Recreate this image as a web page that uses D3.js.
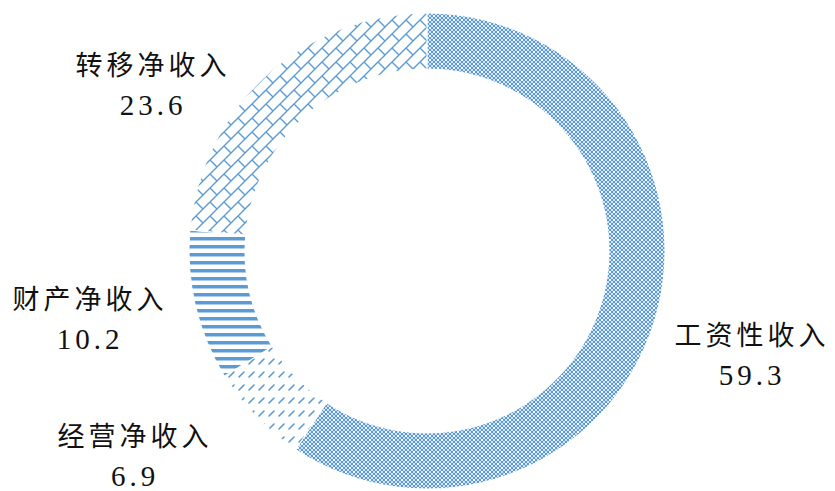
<!DOCTYPE html>
<html>
<head>
<meta charset="utf-8">
<script src="https://cdn.jsdelivr.net/npm/d3@7"></script>
<style>
  html, body { margin: 0; padding: 0; background: #fff; }
  svg { display: block; }
  .name { font-family: "Noto Sans CJK SC", sans-serif; font-size: 27px; letter-spacing: 4px; fill: #111; }
  .value { font-family: "Liberation Serif", serif; font-size: 29px; letter-spacing: 4px; fill: #111; }
</style>
</head>
<body>
<div id="chart"></div>
<script>
// slices, clockwise from 12 o'clock
const categories = ["工资性收入", "经营净收入", "财产净收入", "转移净收入"];
const values = [59.3, 6.9, 10.2, 23.6];
const patterns = ["grid", "dash", "hline", "brick"];

// label anchors (name line centre), placed by hand like the original
const labelPos = [[752, 333], [135, 434], [90, 297], [153, 63]];

const width = 835, height = 491;
const cx = 427, cy = 251;
const outerR = 238, innerR = 182;
const blue = "#5B9BD5";

const svg = d3.select("#chart").append("svg")
  .attr("width", width)
  .attr("height", height);

const defs = svg.append("defs");

// dotted grid: 2px checker with a few white holes
const grid = defs.append("pattern").attr("id", "grid")
  .attr("patternUnits", "userSpaceOnUse").attr("width", 8).attr("height", 8);
grid.append("rect").attr("width", 8).attr("height", 8).attr("fill", "#d3e3f4");
[[0, 0], [4, 0], [2, 2], [6, 2], [0, 4], [4, 4], [2, 6], [6, 6]].forEach(([x, y]) => {
  grid.append("rect").attr("x", x).attr("y", y).attr("width", 2).attr("height", 2).attr("fill", blue);
});
grid.append("rect").attr("x", 2).attr("y", 0).attr("width", 2).attr("height", 2).attr("fill", "#fff");
grid.append("rect").attr("x", 6).attr("y", 4).attr("width", 2).attr("height", 2).attr("fill", "#fff");

// wide upward diagonal dashes
const dash = defs.append("pattern").attr("id", "dash")
  .attr("patternUnits", "userSpaceOnUse").attr("width", 10).attr("height", 13);
dash.append("rect").attr("width", 10).attr("height", 13).attr("fill", "#fff");
dash.append("line").attr("x1", 2).attr("y1", 9).attr("x2", 7).attr("y2", 4)
  .attr("stroke", blue).attr("stroke-width", 1.6).attr("stroke-linecap", "round");

// horizontal stripes
const hline = defs.append("pattern").attr("id", "hline")
  .attr("patternUnits", "userSpaceOnUse").attr("width", 8).attr("height", 8);
hline.append("rect").attr("width", 8).attr("height", 8).attr("fill", "#fff");
hline.append("rect").attr("y", 2).attr("width", 8).attr("height", 3.5).attr("fill", blue);

// diagonal brick
const brick = defs.append("pattern").attr("id", "brick")
  .attr("patternUnits", "userSpaceOnUse").attr("width", 14).attr("height", 14);
brick.append("rect").attr("width", 14).attr("height", 14).attr("fill", "#fff");
brick.append("path").attr("d", "M0,14L14,0M-2,2L2,-2M12,16L16,12M7,7L14,14")
  .attr("stroke", blue).attr("stroke-width", 1.4).attr("fill", "none");

const data = categories.map((c, i) => ({ name: c, value: values[i], pattern: patterns[i], pos: labelPos[i] }));

const pie = d3.pie().sort(null).value(d => d.value);
const arc = d3.arc().innerRadius(innerR).outerRadius(outerR);

const g = svg.append("g").attr("transform", `translate(${cx},${cy})`);

g.selectAll("path")
  .data(pie(data))
  .join("path")
    .attr("d", arc)
    .attr("fill", d => `url(#${d.data.pattern})`)
    .attr("stroke", "#fff")
    .attr("stroke-width", 1);

const labels = svg.append("g")
  .selectAll("g")
  .data(data)
  .join("g")
    .attr("transform", d => `translate(${d.pos[0]},${d.pos[1]})`);

labels.append("text")
  .attr("class", "name")
  .attr("text-anchor", "middle")
  .attr("dominant-baseline", "central")
  .text(d => d.name);

labels.append("text")
  .attr("class", "value")
  .attr("text-anchor", "middle")
  .attr("dominant-baseline", "central")
  .attr("y", 42)
  .text(d => d.value.toFixed(1));
</script>
</body>
</html>
